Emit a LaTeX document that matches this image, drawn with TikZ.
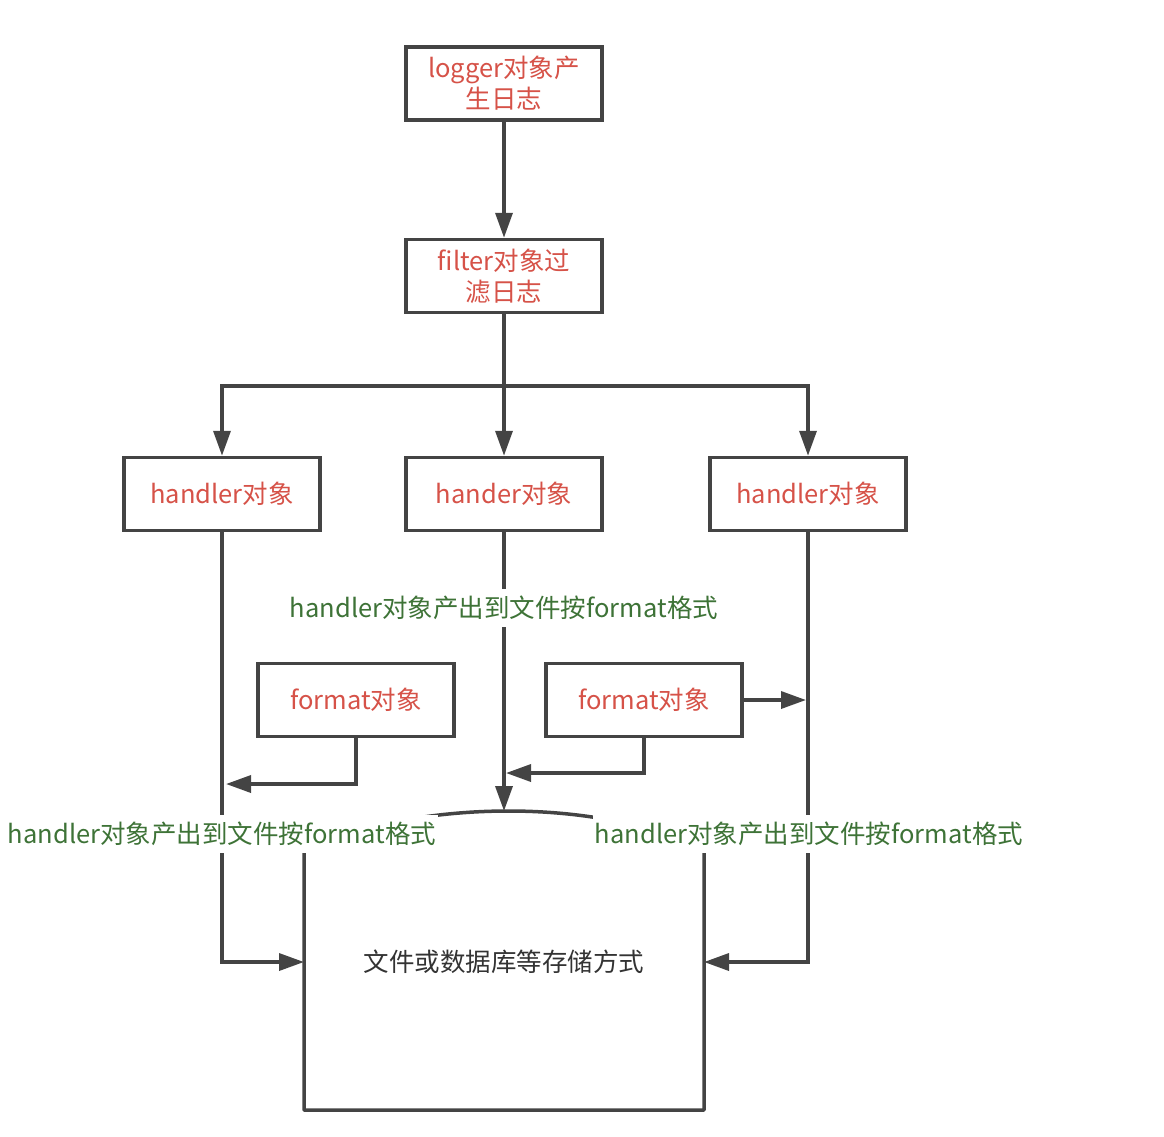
\documentclass[tikz,border=0pt]{standalone}
\usepackage{fontspec}
\setmainfont{Noto Sans CJK SC}
\usetikzlibrary{arrows.meta, positioning}
\definecolor{lineGray}{RGB}{68,68,68}
\definecolor{textRed}{RGB}{214,82,72}
\definecolor{textGreen}{RGB}{62,115,55}
\definecolor{textGray}{RGB}{51,51,51}

\begin{document}
\begin{tikzpicture}[
            x=1pt, y=-1pt,
            every node/.style={font=\fontsize{25.5}{31}\selectfont, align=center},
            box/.style={rectangle, draw=lineGray, line width=3.5pt, fill=white, text=textRed, minimum width=196pt, minimum height=73pt},
            note/.style={fill=white, text=textGreen, inner sep=2pt, minimum height=38pt},
            arrow/.style={-{Triangle[length=25pt,width=17pt]}, line width=3.5pt, draw=lineGray}
        ]
            \useasboundingbox (0,0) rectangle (1164,1136);
            \node[box] (logger) at (504,83.5) {logger对象产\\生日志};
            \node[box] (filter) at (504,276) {filter对象过\\滤日志};
            \node[box] (handlerA) at (222,494) {handler对象};
            \node[box] (handlerB) at (504,494) {hander对象};
            \node[box] (handlerC) at (808,494) {handler对象};
            \node[box] (formatA) at (356,700) {format对象};
            \node[box] (formatB) at (644,700) {format对象};
            \coordinate (split) at (504,386);
            \coordinate (arcTop) at (504,811);
            \coordinate (joinA) at (226,784);
            \coordinate (joinB) at (506,773);
            \coordinate (joinC) at (806,700);
            \coordinate (storeL) at (304,962);
            \coordinate (storeR) at (704,962);
            % storage outline
            \draw[line width=3.5pt, lineGray, line join=round] (304,850) .. controls (420,798) and (600,798) .. (704,850) -- (704,1110) -- (304,1110) -- cycle;
            \draw[arrow] (logger) -- (filter);
            \draw[arrow] (filter) -- (handlerB);
            \draw[arrow] (split) -| (handlerA);
            \draw[arrow] (split) -| (handlerC);
            \draw[arrow] (handlerA) |- (storeL);
            \draw[arrow] (handlerC) |- (storeR);
            \draw[arrow] (handlerB) -- (arcTop);
            \draw[arrow] (formatA) |- (joinA);
            \draw[arrow] (formatB) |- (joinB);
            \draw[arrow] (formatB) -- (joinC);
            % labels
            \node[note] (outB) at (504,608) {handler对象产出到文件按format格式};
            \node[note] (outA) at (222,834) {handler对象产出到文件按format格式};
            \node[note] (outC) at (809,834) {handler对象产出到文件按format格式};
            \node[text=textGray] (store) at (504,962) {文件或数据库等存储方式};
        \end{tikzpicture}
\end{document}
